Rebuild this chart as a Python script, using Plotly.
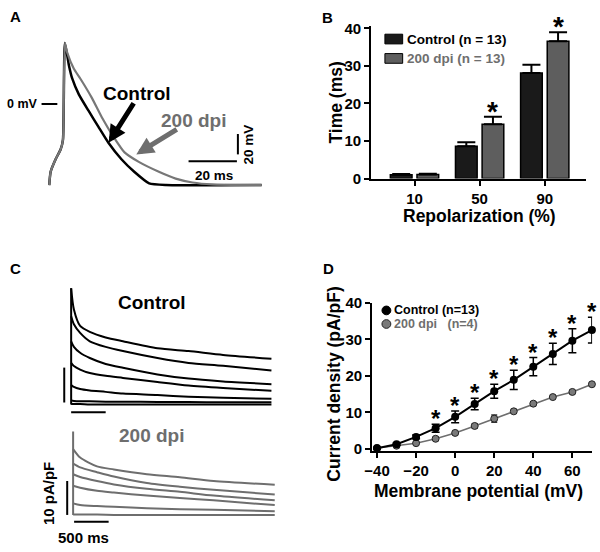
import plotly.graph_objects as go

W, H = 600, 552
FONT = "Liberation Sans, Arial, sans-serif"
GREY = "#6e6e6e"

# ---- A: action potentials (time in ms, voltage in mV)
ap_up_t = [-5.8, -5.2, -3.1, -1.0, 0.0, 0.8]
ap_up_v = [-78.2, -65.4, -53.3, -43.9, -34.6, 58.9]
ap_ctrl_t = [2.5, 3.9, 6.7, 10.8, 15.0, 19.2, 24.7, 30.1, 36.4, 43.5, 83.9]
ap_ctrl_v = [37.4, 24.6, 9.3, -6.5, -22.1, -37.4, -53.3, -65.4, -76.6, -78.2, -78.2]
ap_dpi_t = [1.8, 4.6, 7.3, 12.2, 16.4, 21.3, 26.0, 32.2, 40.5, 47.6, 54.7, 63.0, 83.9]
ap_dpi_v = [49.5, 33.9, 24.6, 5.9, -12.8, -31.5, -46.7, -56.1, -65.4, -72.0, -75.7, -77.6, -78.2]

# ---- B: APD at 10/50/90 % repolarization (ms)
repol = ["10", "50", "90"]
apd_ctrl = [1.0, 8.6, 28.1]
apd_ctrl_err = [0.2, 1.1, 2.2]
apd_dpi = [1.1, 14.5, 36.6]
apd_dpi_err = [0.2, 2.0, 2.4]
apd_sig = [False, True, True]

# ---- C: current traces (time in ms, pA/pF)
c_ctrl_t = [0, 40, 130, 270, 500, 750, 1250, 1700, 2200, 2900]
c_ctrl = [
    [33.3, 27.2, 22.5, 20.8, 19.2, 18.1, 16.1, 15.3, 14.2, 13.1],
    [25.3, 23.0, 20.5, 18.1, 16.5, 15.3, 13.3, 11.9, 11.1, 9.7],
    [18.1, 16.5, 14.8, 13.3, 11.6, 10.5, 8.6, 7.4, 6.6, 5.8],
    [11.9, 11.0, 10.0, 9.0, 8.2, 7.6, 6.4, 5.4, 4.7, 3.9],
    [5.6, 5.0, 4.4, 4.0, 3.6, 3.1, 2.7, 2.2, 1.9, 1.6],
    [1.1, 1.0, 0.9, 0.9, 0.8, 0.8, 0.7, 0.7, 0.6, 0.6],
    [0.1, 0.1, 0.1, 0.0, 0.0, 0.0, 0.0, 0.0, 0.0, 0.0],
]
c_dpi_t = [0, 100, 340, 580, 1050, 1520, 2000, 2870]
c_dpi = [
    [19.4, 16.9, 14.3, 13.4, 12.0, 11.1, 10.0, 8.9],
    [15.1, 14.0, 12.6, 11.3, 9.4, 8.3, 7.4, 6.0],
    [12.0, 11.2, 10.0, 9.0, 7.7, 6.8, 5.7, 4.3],
    [8.6, 8.0, 7.1, 6.6, 5.7, 5.0, 4.3, 2.9],
    [3.4, 2.9, 2.6, 2.4, 2.0, 1.7, 1.5, 1.1],
    [0.1, 0.1, 0.1, 0.0, 0.0, 0.0, 0.0, 0.0],
]
c_dpi_transient = 24.6

# ---- D: I-V relation
vm = [-40, -30, -20, -10, 0, 10, 20, 30, 40, 50, 60, 70]
iv_ctrl = [0.2, 1.3, 3.3, 5.7, 8.8, 12.3, 15.8, 18.9, 22.5, 26.0, 29.6, 32.5]
iv_ctrl_err = [0.2, 0.3, 0.5, 1.1, 1.6, 1.6, 1.9, 2.6, 2.5, 2.9, 3.3, 3.5]
iv_dpi = [0.3, 0.9, 1.6, 2.8, 4.4, 6.3, 8.3, 10.3, 12.4, 14.2, 15.6, 17.7]
iv_dpi_err = [0.2, 0.3, 0.3, 0.4, 0.4, 0.6, 1.0, 0.5, 0.5, 0.4, 0.4, 0.5]
iv_sig = [False, False, False, True, True, True, True, True, True, True, True, True]


def px(x):
    return x / W


def py(y):
    return 1 - y / H


def span(p0, p1, pa, va, pb, vb):
    # axis range at pixel edges p0/p1 from two pixel->value reference pairs
    k = (vb - va) / (pb - pa)
    return [va + (p0 - pa) * k, va + (p1 - pa) * k]


fig = go.Figure()

# A
fig.add_trace(go.Scatter(x=ap_up_t + ap_ctrl_t, y=ap_up_v + ap_ctrl_v, mode="lines",
                         line=dict(color="black", width=2.5, shape="spline", smoothing=0.5),
                         xaxis="x", yaxis="y"))
fig.add_trace(go.Scatter(x=ap_up_t + ap_dpi_t, y=ap_up_v + ap_dpi_v, mode="lines",
                         line=dict(color="#777777", width=2.2, shape="spline", smoothing=0.5),
                         xaxis="x", yaxis="y"))

# B
xs = list(range(len(repol)))
fig.add_trace(go.Bar(x=xs, y=apd_ctrl, width=0.333, offset=-0.371,
                     marker=dict(color="#1a1a1a", line=dict(color="black", width=1.5)),
                     error_y=dict(type="data", array=apd_ctrl_err, arrayminus=[0] * 3,
                                  symmetric=False, width=9, thickness=2, color="black"),
                     xaxis="x2", yaxis="y2"))
fig.add_trace(go.Bar(x=xs, y=apd_dpi, width=0.333, offset=0.038,
                     marker=dict(color="#5e5e5e", line=dict(color="black", width=1.5)),
                     error_y=dict(type="data", array=apd_dpi_err, arrayminus=[0] * 3,
                                  symmetric=False, width=9, thickness=2, color="black"),
                     xaxis="x2", yaxis="y2"))

# C
fig.add_trace(go.Scatter(x=[0, 0], y=[0, max(r[0] for r in c_ctrl)], mode="lines",
                         line=dict(color="black", width=2), xaxis="x3", yaxis="y3"))
for row in c_ctrl:
    fig.add_trace(go.Scatter(x=c_ctrl_t, y=row, mode="lines",
                             line=dict(color="black", width=2, shape="spline", smoothing=0.7),
                             xaxis="x3", yaxis="y3"))
fig.add_trace(go.Scatter(x=[0, 0], y=[0, c_dpi_transient], mode="lines",
                         line=dict(color=GREY, width=2), xaxis="x4", yaxis="y4"))
for row in c_dpi:
    fig.add_trace(go.Scatter(x=c_dpi_t, y=row, mode="lines",
                             line=dict(color=GREY, width=2, shape="spline", smoothing=0.7),
                             xaxis="x4", yaxis="y4"))

# D
fig.add_trace(go.Scatter(x=vm, y=iv_dpi, mode="lines+markers", cliponaxis=False,
                         line=dict(color=GREY, width=1.5),
                         marker=dict(size=7, color="#7a7a7a", line=dict(color="#222", width=1)),
                         error_y=dict(type="data", array=iv_dpi_err, width=3, thickness=1.5, color="#333"),
                         xaxis="x5", yaxis="y5"))
fig.add_trace(go.Scatter(x=vm, y=iv_ctrl, mode="lines+markers", cliponaxis=False,
                         line=dict(color="black", width=2),
                         marker=dict(size=8, color="black"),
                         error_y=dict(type="data", array=iv_ctrl_err, width=4, thickness=1.5, color="black"),
                         xaxis="x5", yaxis="y5"))

tickfont = dict(family=FONT, size=15, weight="bold", color="black")
ax_style = dict(showline=True, linecolor="black", linewidth=2, ticks="outside", ticklen=5,
                tickwidth=2, tickcolor="black", showgrid=False, zeroline=False, tickfont=tickfont)

fig.update_layout(
    width=W, height=H, margin=dict(l=0, r=0, t=0, b=0),
    paper_bgcolor="white", plot_bgcolor="rgba(0,0,0,0)",
    showlegend=False, font=dict(family=FONT, color="black"),
    xaxis=dict(domain=[px(30), px(270)], range=span(30, 270, 55.7, 0, 79.7, 10), visible=False),
    yaxis=dict(domain=[py(195), py(25)], range=span(195, 25, 98, 0, 76.6, 20), visible=False),
    xaxis2=dict(domain=[px(368), px(586)], range=span(368, 586, 412, 0, 478, 1),
                tickvals=xs, ticktext=repol, anchor="y2", **ax_style),
    yaxis2=dict(domain=[py(175), py(18)], range=span(175, 18, 175, 0, 20, 40),
                tickvals=[0, 10, 20, 30, 40], anchor="x2", **ax_style),
    xaxis3=dict(domain=[px(40), px(280)], range=span(40, 280, 64, 0, 99, 500), visible=False, anchor="y3"),
    yaxis3=dict(domain=[py(420), py(280)], range=span(420, 280, 408, 0, 372, 10), visible=False, anchor="x3"),
    xaxis4=dict(domain=[px(40), px(280)], range=span(40, 280, 66, 0, 101.6, 500), visible=False, anchor="y4"),
    yaxis4=dict(domain=[py(535), py(430)], range=span(535, 430, 522, 0, 487, 10), visible=False, anchor="x4"),
    xaxis5=dict(domain=[px(369), px(592)], range=span(369, 592, 374, -40, 572, 60),
                tickvals=[-40, -20, 0, 20, 40, 60], anchor="y5", **ax_style),
    yaxis5=dict(domain=[py(456), py(303)], range=span(456, 303, 454, 0, 303, 40),
                tickvals=[0, 10, 20, 30, 40], anchor="x5", **ax_style),
)

ann = []


def label(x, y, text, size, color="black", angle=0, xanchor="center"):
    ann.append(dict(x=px(x), y=py(y), xref="paper", yref="paper", text=text, showarrow=False,
                    textangle=angle, xanchor=xanchor, yanchor="middle", borderpad=0,
                    font=dict(family=FONT, size=size, color=color, weight="bold")))


def seg(x0, y0, x1, y1, color="black", width=2):
    fig.add_shape(type="line", xref="paper", yref="paper", x0=px(x0), y0=py(y0), x1=px(x1), y1=py(y1),
                  line=dict(color=color, width=width))


# panel letters
label(7.5, 8, "A", 15)
label(324, 9, "B", 15)
label(7.5, 268, "C", 15)
label(325, 268, "D", 15)

# A texts, arrows, scale bars
label(131, 87, "Control", 19)
label(188, 115, "200 dpi", 19, GREY)
label(31, 98, "0 mV", 12.5, xanchor="right")
label(244, 140, "20 mV", 13.5, angle=-90)
label(209, 172, "20 ms", 13.5)
seg(34, 98, 50, 98)
seg(233, 129, 233, 150)
seg(183, 157, 232, 157)
for hx, hy, tx, ty, col in [(102, 138, 128, 97, "black"), (130, 150, 172, 124, GREY)]:
    ann.append(dict(x=px(hx), y=py(hy), xref="paper", yref="paper", ax=tx - hx, ay=ty - hy,
                    text="", showarrow=True, arrowhead=2, arrowsize=0.7, arrowwidth=5, arrowcolor=col))

# B legend, titles and significance marks
fig.add_shape(type="rect", xref="paper", yref="paper", x0=px(382), x1=px(400), y0=py(36), y1=py(26),
              fillcolor="#1a1a1a", line=dict(color="black", width=1))
fig.add_shape(type="rect", xref="paper", yref="paper", x0=px(382), x1=px(400), y0=py(56), y1=py(46),
              fillcolor="#5e5e5e", line=dict(color="black", width=1))
label(403, 31, "Control (n = 13)", 13.5, xanchor="left")
label(403, 51, "200 dpi (n = 13)", 13.5, GREY, xanchor="left")
label(332, 97, "Time (ms)", 17.5, angle=-90)
label(478, 214, "Repolarization (%)", 17.5)
for i, s in enumerate(apd_sig):
    if s:
        ann.append(dict(x=i + 0.205, y=apd_dpi[i] + apd_dpi_err[i], xref="x2", yref="y2", text="*",
                        showarrow=False, yanchor="bottom", yshift=-12,
                        font=dict(family=FONT, size=28, weight="bold", color="black")))

# C texts and scale bars
label(146, 303, "Control", 19)
label(145, 440, "200 dpi", 19, GREY)
label(41, 500, "10 pA/pF", 15, angle=-90)
label(77, 545, "500 ms", 15)
seg(57, 370, 57, 406)
seg(64, 416, 99, 416)
seg(60, 487, 60, 522)
seg(67, 529, 102, 529)

# D legend, titles and significance marks
fig.add_shape(type="circle", xref="paper", yref="paper", x0=px(379), x1=px(388), y0=py(315.5), y1=py(306.5),
              fillcolor="black", line=dict(color="black", width=1))
fig.add_shape(type="circle", xref="paper", yref="paper", x0=px(379), x1=px(388), y0=py(329.5), y1=py(320.5),
              fillcolor="#7a7a7a", line=dict(color="#222", width=1))
label(390, 311, "Control (n=13)", 12.5, xanchor="left")
label(390, 325, "200 dpi\u00a0\u00a0\u00a0(n=4)", 12.5, GREY, xanchor="left")
label(330, 387, "Current density (pA/pF)", 17.5, angle=-90)
label(477, 497, "Membrane potential (mV)", 17.5)
for v, m, e, s in zip(vm, iv_ctrl, iv_ctrl_err, iv_sig):
    if s:
        ann.append(dict(x=v, y=m + e, xref="x5", yref="y5", text="*", showarrow=False,
                        yanchor="bottom", yshift=-10,
                        font=dict(family=FONT, size=24, weight="bold", color="black")))

fig.update_layout(annotations=ann)
# the page body has a default 8px margin; drop it so the figure sits at the window corner
fig.write_html("out.html", config={"displayModeBar": False},
               post_script="document.body.style.margin='0px';")
